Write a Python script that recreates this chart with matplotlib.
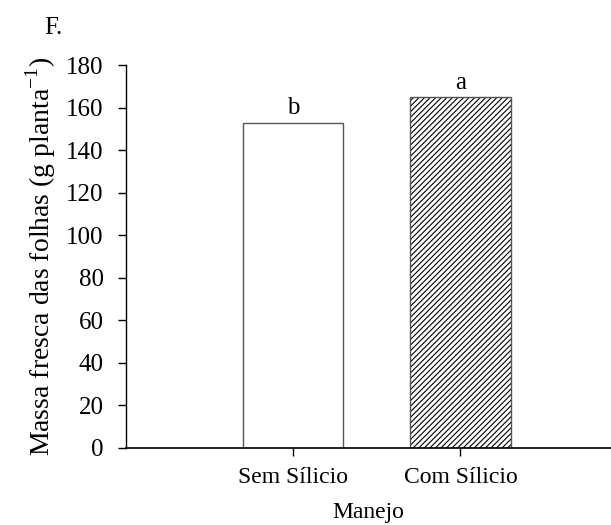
import matplotlib.pyplot as plt
import numpy as np

plt.rcParams['font.family'] = ['Liberation Serif', 'DejaVu Serif']
plt.rcParams['hatch.linewidth'] = 0.8
plt.rcParams['mathtext.fontset'] = 'custom'
plt.rcParams['mathtext.rm'] = 'Liberation Serif'

# dados
manejo = ['Sem Sílicio', 'Com Sílicio']
massa_fresca = [153, 165]
letras = ['b', 'a']
hachuras = ['', '//////']

fig = plt.figure(figsize=(6.11, 5.25), dpi=100)
ax = fig.add_axes([0.206, 0.147, 0.794, 0.729])

x = np.arange(1, len(manejo) + 1)
for xi, v, h in zip(x, massa_fresca, hachuras):
    # hachura preta por baixo, contorno cinza por cima
    ax.bar(xi, v, width=0.6, color='white', edgecolor='black',
           linewidth=0, hatch=h)
    ax.bar(xi, v, width=0.6, color='none', edgecolor='#555555',
           linewidth=1.0)
for xi, v, l in zip(x, massa_fresca, letras):
    ax.text(xi, v + 1.5, l, ha='center', va='bottom', fontsize=18)

ax.set_xlim(0, 2.9)
ax.set_ylim(0, 180)
ax.set_yticks(np.arange(0, 181, 20))
ax.set_xticks(x)
ax.set_xticklabels(manejo, fontsize=17)
ax.tick_params(axis='y', labelsize=18, direction='out', length=6, width=1, pad=10)
ax.tick_params(axis='x', direction='out', length=6, width=1, pad=8)

ax.spines['top'].set_visible(False)
ax.spines['right'].set_visible(False)
ax.spines['left'].set_linewidth(1)
ax.spines['bottom'].set_linewidth(1.2)

ax.set_xlabel('Manejo', fontsize=17, labelpad=10)
ax.set_ylabel('Massa fresca das folhas (g planta$^{\\mathregular{-1}}$)', fontsize=20, labelpad=6)

fig.text(0.073, 0.935, 'F.', fontsize=18)

fig.savefig('out.png', dpi=100)
